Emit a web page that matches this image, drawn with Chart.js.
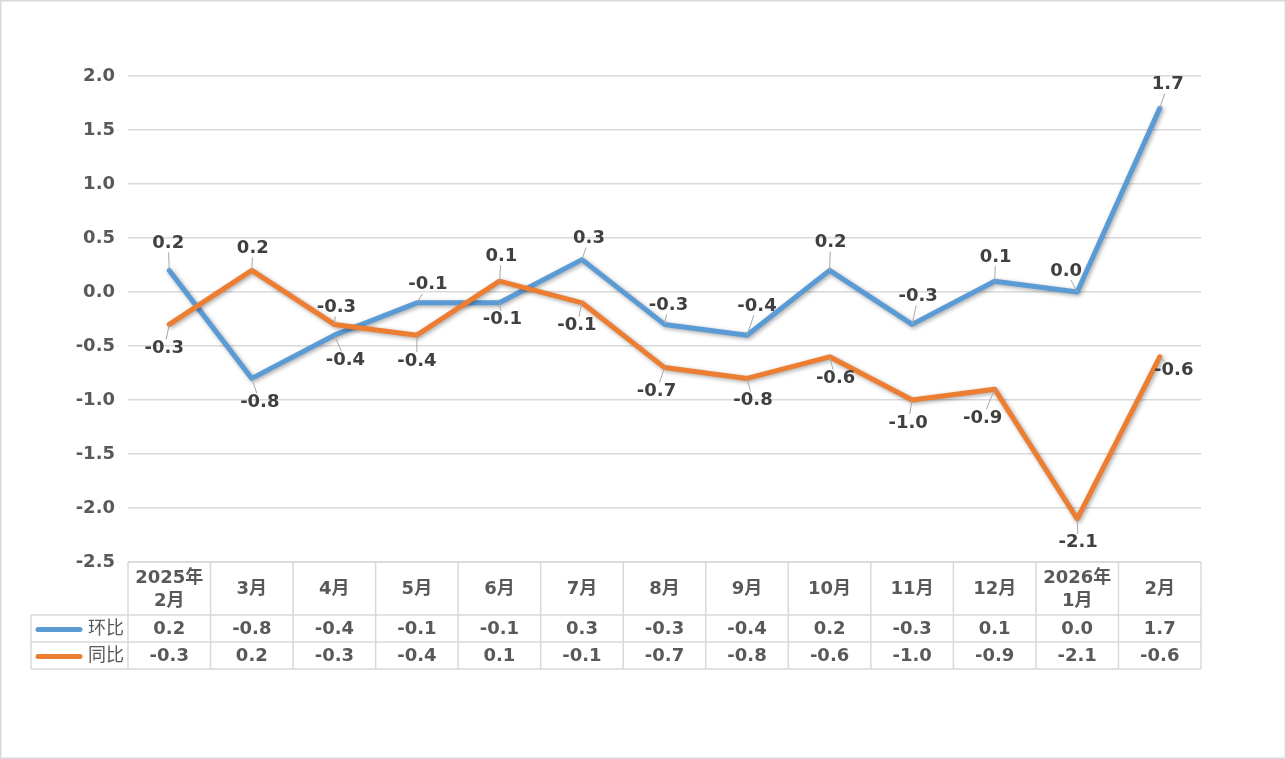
<!DOCTYPE html>
<html>
<head>
<meta charset="utf-8">
<script src="https://cdn.jsdelivr.net/npm/chart.js@4"></script>
<style>
  html, body { margin: 0; padding: 0; background: #fff; }
  canvas { display: block; }
</style>
</head>
<body>
<canvas id="chart" width="1286" height="759"></canvas>
<script>
  // data
  var categories = [['2025年', '2月'], ['3月'], ['4月'], ['5月'], ['6月'], ['7月'], ['8月'],
                    ['9月'], ['10月'], ['11月'], ['12月'], ['2026年', '1月'], ['2月']];
  var huanbi = [0.2, -0.8, -0.4, -0.1, -0.1, 0.3, -0.3, -0.4, 0.2, -0.3, 0.1, 0.0, 1.7];
  var tongbi = [-0.3, 0.2, -0.3, -0.4, 0.1, -0.1, -0.7, -0.8, -0.6, -1.0, -0.9, -2.1, -0.6];
  var seriesNames = ['环比', '同比'];

  // label placement (pixel offsets from each point)
  var huanbiLabelPos = [[-1,-27],[8,24],[11,25],[11,-18],[3,17],[7,-21],[4,-19],[10,-29],
                        [1,-28],[6,-28],[1,-24],[-11,-21],[8,-24]];
  var tongbiLabelPos = [[-5,24],[1,-22],[2,-17],[0,26],[2,-25],[-5,23],[-8,24],[6,22],
                        [6,22],[-4,23],[-12,29],[1,24],[14,14]];

  var FONT = '"DejaVu Sans", "Noto Sans CJK SC", sans-serif';
  var FS = 18;
  var GRID = '#d9d9d9';
  var BLUE = '#5b9bd5', ORANGE = '#ed7d31';

  var shadowPlugin = {
    id: 'shadow',
    beforeDatasetDraw: function (chart) {
      var ctx = chart.ctx;
      ctx.save();
      ctx.shadowColor = 'rgba(0,0,0,0.35)';
      ctx.shadowBlur = 4;
      ctx.shadowOffsetX = 1.5;
      ctx.shadowOffsetY = 1.5;
    },
    afterDatasetDraw: function (chart) {
      chart.ctx.restore();
    }
  };

  var labelPlugin = {
    id: 'pointLabels',
    afterDatasetsDraw: function (chart) {
      var ctx = chart.ctx;
      ctx.save();
      ctx.font = 'bold ' + FS + 'px ' + FONT;
      ctx.textAlign = 'center';
      ctx.textBaseline = 'middle';
      chart.data.datasets.forEach(function (ds, di) {
        var meta = chart.getDatasetMeta(di);
        var pos = di === 0 ? huanbiLabelPos : tongbiLabelPos;
        meta.data.forEach(function (pt, i) {
          var txt = ds.data[i].toFixed(1);
          var lx = pt.x + pos[i][0], ly = pt.y + pos[i][1];
          var hw = ctx.measureText(txt).width / 2 + 2, hh = 9;
          // leader line from point to label box edge
          var dx = lx - pt.x, dy = ly - pt.y;
          var t = Math.min(Math.abs(dx) > 0 ? hw / Math.abs(dx) : 99, Math.abs(dy) > 0 ? hh / Math.abs(dy) : 99);
          var ex = lx - dx * t, ey = ly - dy * t;
          var gap = Math.hypot(ex - pt.x, ey - pt.y);
          if (t < 1 && gap > 5) {
            ctx.strokeStyle = '#a6a6a6';
            ctx.lineWidth = 1;
            ctx.beginPath();
            ctx.moveTo(pt.x, pt.y);
            ctx.lineTo(ex, ey);
            ctx.stroke();
          }
          ctx.fillStyle = '#404040';
          ctx.fillText(txt, lx, ly);
        });
      });
      ctx.restore();
    }
  };

  var tablePlugin = {
    id: 'dataTable',
    afterDraw: function (chart) {
      var ctx = chart.ctx;
      var area = chart.chartArea;
      var xs = chart.scales.x;
      var n = categories.length;
      var colW = (area.right - area.left) / n;
      var top = area.bottom, r1 = top + 53, r2 = r1 + 27, r3 = r2 + 27;
      var legLeft = 31;
      ctx.save();
      ctx.strokeStyle = GRID;
      ctx.lineWidth = 1.5;
      ctx.beginPath();
      ctx.moveTo(area.left, top); ctx.lineTo(area.right, top);
      [r1, r2, r3].forEach(function (y) { ctx.moveTo(legLeft, y); ctx.lineTo(area.right, y); });
      ctx.moveTo(legLeft, r1); ctx.lineTo(legLeft, r3);
      for (var k = 0; k <= n; k++) {
        var x = area.left + colW * k;
        ctx.moveTo(x, top); ctx.lineTo(x, r3);
      }
      ctx.stroke();

      ctx.textAlign = 'center';
      ctx.textBaseline = 'middle';
      ctx.fillStyle = '#595959';
      ctx.font = 'bold ' + FS + 'px ' + FONT;
      categories.forEach(function (lines, i) {
        var cx = xs.getPixelForValue(i);
        var mid = (top + r1) / 2 + 1;
        lines.forEach(function (s, j) {
          ctx.fillText(s, cx, mid + (j - (lines.length - 1) / 2) * 23);
        });
        ctx.fillText(huanbi[i].toFixed(1), cx, (r1 + r2) / 2 + 1);
        ctx.fillText(tongbi[i].toFixed(1), cx, (r2 + r3) / 2 + 1);
      });

      // legend keys in the table
      [[BLUE, (r1 + r2) / 2 + 1], [ORANGE, (r2 + r3) / 2 + 1]].forEach(function (k, i) {
        ctx.strokeStyle = k[0];
        ctx.lineWidth = 5;
        ctx.lineCap = 'round';
        ctx.beginPath();
        ctx.moveTo(38, k[1]); ctx.lineTo(80, k[1]);
        ctx.stroke();
        ctx.fillStyle = '#595959';
        ctx.font = FS + 'px ' + FONT;
        ctx.textAlign = 'left';
        ctx.fillText(seriesNames[i], 88, k[1]);
      });

      // outer frame
      ctx.strokeStyle = GRID;
      ctx.lineWidth = 1.5;
      ctx.strokeRect(0.75, 0.75, chart.width - 1.5, chart.height - 1.5);
      ctx.restore();
    }
  };

  new Chart(document.getElementById('chart'), {
    type: 'line',
    data: {
      labels: categories.map(function (c) { return c.join(''); }),
      datasets: [{
        label: seriesNames[0],
        data: huanbi,
        borderColor: BLUE,
        borderWidth: 5,
        borderJoinStyle: 'round',
        borderCapStyle: 'round',
        pointRadius: 0,
        tension: 0,
        order: 1
      }, {
        label: seriesNames[1],
        data: tongbi,
        borderColor: ORANGE,
        borderWidth: 5,
        borderJoinStyle: 'round',
        borderCapStyle: 'round',
        pointRadius: 0,
        tension: 0,
        order: 0
      }]
    },
    options: {
      responsive: false,
      animation: false,
      layout: { padding: { left: 0, right: 85, top: 76, bottom: 197 } },
      plugins: {
        legend: { display: false },
        tooltip: { enabled: false }
      },
      scales: {
        x: { display: false, offset: true },
        y: {
          min: -2.5,
          max: 2.0,
          afterFit: function (scale) { scale.width = 128; },
          border: { display: false },
          grid: { color: GRID, lineWidth: 1.5, drawTicks: false },
          ticks: {
            stepSize: 0.5,
            padding: 13,
            color: '#595959',
            font: { family: FONT, size: FS, weight: 'bold' },
            callback: function (v) { return v.toFixed(1); }
          }
        }
      }
    },
    plugins: [shadowPlugin, labelPlugin, tablePlugin]
  });
</script>
</body>
</html>
